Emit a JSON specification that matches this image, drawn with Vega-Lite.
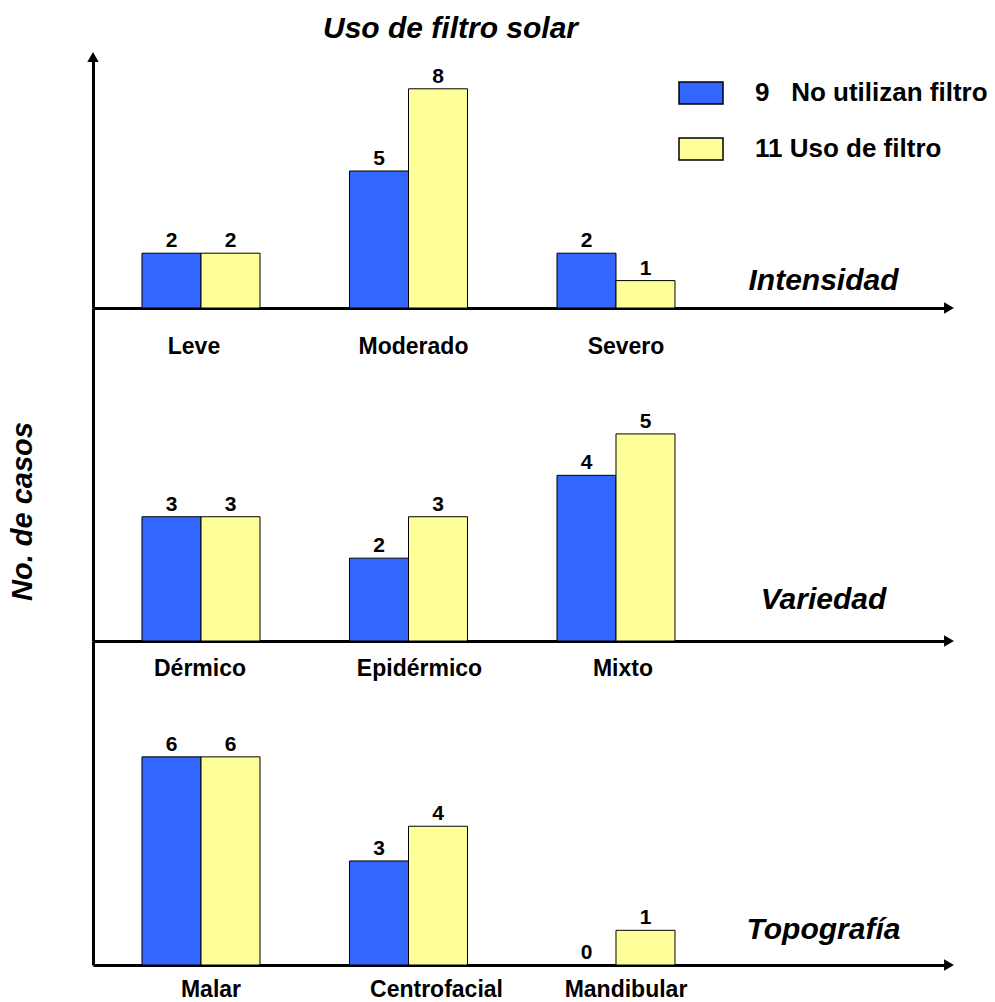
{
  "$schema": "https://vega.github.io/schema/vega-lite/v6.json",
  "padding": {"left": 8, "top": 14, "right": 0, "bottom": 0},
  "title": {"text": "Uso de filtro solar", "fontSize": 30, "fontWeight": "bold", "fontStyle": "italic", "font": "Liberation Sans", "color": "black", "anchor": "start", "frame": "group", "dx": 230, "offset": 8},
  "datasets": {
    "casos": [
      {"panel": "Intensidad", "categoria": "Leve", "grupo": "9\u00a0\u00a0\u00a0No utilizan filtro", "casos": 2},
      {"panel": "Intensidad", "categoria": "Leve", "grupo": "11 Uso de filtro", "casos": 2},
      {"panel": "Intensidad", "categoria": "Moderado", "grupo": "9\u00a0\u00a0\u00a0No utilizan filtro", "casos": 5},
      {"panel": "Intensidad", "categoria": "Moderado", "grupo": "11 Uso de filtro", "casos": 8},
      {"panel": "Intensidad", "categoria": "Severo", "grupo": "9\u00a0\u00a0\u00a0No utilizan filtro", "casos": 2},
      {"panel": "Intensidad", "categoria": "Severo", "grupo": "11 Uso de filtro", "casos": 1},
      {"panel": "Variedad", "categoria": "Dérmico", "grupo": "9\u00a0\u00a0\u00a0No utilizan filtro", "casos": 3},
      {"panel": "Variedad", "categoria": "Dérmico", "grupo": "11 Uso de filtro", "casos": 3},
      {"panel": "Variedad", "categoria": "Epidérmico", "grupo": "9\u00a0\u00a0\u00a0No utilizan filtro", "casos": 2},
      {"panel": "Variedad", "categoria": "Epidérmico", "grupo": "11 Uso de filtro", "casos": 3},
      {"panel": "Variedad", "categoria": "Mixto", "grupo": "9\u00a0\u00a0\u00a0No utilizan filtro", "casos": 4},
      {"panel": "Variedad", "categoria": "Mixto", "grupo": "11 Uso de filtro", "casos": 5},
      {"panel": "Topografía", "categoria": "Malar", "grupo": "9\u00a0\u00a0\u00a0No utilizan filtro", "casos": 6},
      {"panel": "Topografía", "categoria": "Malar", "grupo": "11 Uso de filtro", "casos": 6},
      {"panel": "Topografía", "categoria": "Centrofacial", "grupo": "9\u00a0\u00a0\u00a0No utilizan filtro", "casos": 3},
      {"panel": "Topografía", "categoria": "Centrofacial", "grupo": "11 Uso de filtro", "casos": 4},
      {"panel": "Topografía", "categoria": "Mandibular", "grupo": "9\u00a0\u00a0\u00a0No utilizan filtro", "casos": 0},
      {"panel": "Topografía", "categoria": "Mandibular", "grupo": "11 Uso de filtro", "casos": 1}
    ]
  },
  "bounds": "flush",
  "spacing": 0,
  "vconcat": [
    {
      "width": 856, "height": 251,
      "layer": [
        {
          "data": {"name": "casos"},
          "transform": [{"filter": "datum.panel == 'Intensidad'"}],
          "mark": {"type": "bar", "stroke": "black", "strokeWidth": 1},
          "encoding": {
            "x": {"field": "categoria", "type": "nominal", "scale": {"domain": ["Leve", "Moderado", "Severo", "Intensidad"], "paddingInner": 0.4313, "paddingOuter": 0.2783, "align": 0.4242},
              "axis": {"title": null, "values": ["Leve", "Moderado", "Severo"], "ticks": false, "grid": false, "domainColor": "black", "domainWidth": 3, "labelFontSize": 23, "labelFontWeight": "bold", "labelColor": "black", "labelPadding": 27, "labelAngle": 0,
                "labelOffset": {"condition": [{"test": "datum.value === 'Leve'", "value": -7}, {"test": "datum.value === 'Severo'", "value": 10}], "value": 5}}},
            "xOffset": {"field": "grupo", "type": "nominal", "scale": {"domain": ["9\u00a0\u00a0\u00a0No utilizan filtro", "11 Uso de filtro"], "paddingInner": 0, "paddingOuter": 0}},
            "y": {"field": "casos", "type": "quantitative", "scale": {"domain": [0, 9.16], "nice": false}, "axis": {"title": null, "labels": false, "ticks": false, "grid": false, "domainColor": "black", "domainWidth": 3}},
            "color": {"field": "grupo", "type": "nominal", "scale": {"domain": ["9\u00a0\u00a0\u00a0No utilizan filtro", "11 Uso de filtro"], "range": ["#3366FF", "#FFFF99"]}, "legend": {"title": null, "symbolType": "M-1,-0.5H1V0.5H-1Z", "symbolSize": 1936}}
          }
        },
        {
          "data": {"name": "casos"},
          "transform": [{"filter": "datum.panel == 'Intensidad'"}],
          "mark": {"type": "text", "fontSize": 21, "fontWeight": "bold", "baseline": "alphabetic", "dy": -6, "color": "black"},
          "encoding": {
            "x": {"field": "categoria", "type": "nominal", "scale": {"domain": ["Leve", "Moderado", "Severo", "Intensidad"], "paddingInner": 0.4313, "paddingOuter": 0.2783, "align": 0.4242}},
            "xOffset": {"field": "grupo", "type": "nominal", "scale": {"domain": ["9\u00a0\u00a0\u00a0No utilizan filtro", "11 Uso de filtro"], "paddingInner": 0, "paddingOuter": 0}},
            "y": {"field": "casos", "type": "quantitative"},
            "text": {"field": "casos", "type": "quantitative"}
          }
        },
        {
          "data": {"name": "casos"},
          "transform": [{"filter": "datum.panel == 'Intensidad'"}, {"aggregate": [{"op": "count", "as": "n"}], "groupby": ["panel"]}],
          "mark": {"type": "text", "fontSize": 30, "fontWeight": "bold", "fontStyle": "italic", "baseline": "middle", "color": "black"},
          "encoding": {
            "x": {"field": "panel", "type": "nominal", "scale": {"domain": ["Leve", "Moderado", "Severo", "Intensidad"], "paddingInner": 0.4313, "paddingOuter": 0.2783, "align": 0.4242}},
            "y": {"datum": 1, "type": "quantitative"},
            "text": {"field": "panel", "type": "nominal"}
          }
        },
        {
          "data": {"values": [{"flecha": "vertical"}]},
          "mark": {"type": "point", "shape": "triangle-up", "filled": true, "color": "black", "size": 130, "opacity": 1},
          "encoding": {"x": {"value": 0}, "y": {"value": 0}}
        },
        {
          "data": {"values": [{"flecha": "horizontal"}]},
          "mark": {"type": "point", "shape": "triangle-right", "filled": true, "color": "black", "size": 130, "opacity": 1},
          "encoding": {"x": {"value": "width"}, "y": {"value": "height"}}
        }
      ]
    },
    {
      "width": 856, "height": 333,
      "layer": [
        {
          "data": {"name": "casos"},
          "transform": [{"filter": "datum.panel == 'Variedad'"}],
          "mark": {"type": "bar", "stroke": "black", "strokeWidth": 1},
          "encoding": {
            "x": {"field": "categoria", "type": "nominal", "scale": {"domain": ["Dérmico", "Epidérmico", "Mixto", "Variedad"], "paddingInner": 0.4313, "paddingOuter": 0.2783, "align": 0.4242},
              "axis": {"title": null, "values": ["Dérmico", "Epidérmico", "Mixto"], "ticks": false, "grid": false, "domainColor": "black", "domainWidth": 3, "labelFontSize": 23, "labelFontWeight": "bold", "labelColor": "black", "labelPadding": 16, "labelAngle": 0,
                "labelOffset": {"condition": [{"test": "datum.value === 'Dérmico'", "value": -1}, {"test": "datum.value === 'Epidérmico'", "value": 11}], "value": 7}}},
            "xOffset": {"field": "grupo", "type": "nominal", "scale": {"domain": ["9\u00a0\u00a0\u00a0No utilizan filtro", "11 Uso de filtro"], "paddingInner": 0, "paddingOuter": 0}},
            "y": {"field": "casos", "type": "quantitative", "scale": {"domain": [0, 8.04], "nice": false},
              "axis": {"title": "No. de casos", "labels": false, "ticks": false, "grid": false, "domainColor": "black", "domainWidth": 3, "titleFontSize": 29, "titleFontWeight": "bold", "titleFontStyle": "italic", "titleColor": "black", "titlePadding": 56, "titleY": 203}},
            "color": {"field": "grupo", "type": "nominal", "scale": {"domain": ["9\u00a0\u00a0\u00a0No utilizan filtro", "11 Uso de filtro"], "range": ["#3366FF", "#FFFF99"]}, "legend": {"title": null, "symbolType": "M-1,-0.5H1V0.5H-1Z", "symbolSize": 1936}}
          }
        },
        {
          "data": {"name": "casos"},
          "transform": [{"filter": "datum.panel == 'Variedad'"}],
          "mark": {"type": "text", "fontSize": 21, "fontWeight": "bold", "baseline": "alphabetic", "dy": -6, "color": "black"},
          "encoding": {
            "x": {"field": "categoria", "type": "nominal", "scale": {"domain": ["Dérmico", "Epidérmico", "Mixto", "Variedad"], "paddingInner": 0.4313, "paddingOuter": 0.2783, "align": 0.4242}},
            "xOffset": {"field": "grupo", "type": "nominal", "scale": {"domain": ["9\u00a0\u00a0\u00a0No utilizan filtro", "11 Uso de filtro"], "paddingInner": 0, "paddingOuter": 0}},
            "y": {"field": "casos", "type": "quantitative"},
            "text": {"field": "casos", "type": "quantitative"}
          }
        },
        {
          "data": {"name": "casos"},
          "transform": [{"filter": "datum.panel == 'Variedad'"}, {"aggregate": [{"op": "count", "as": "n"}], "groupby": ["panel"]}],
          "mark": {"type": "text", "fontSize": 30, "fontWeight": "bold", "fontStyle": "italic", "baseline": "middle", "color": "black"},
          "encoding": {
            "x": {"field": "panel", "type": "nominal", "scale": {"domain": ["Dérmico", "Epidérmico", "Mixto", "Variedad"], "paddingInner": 0.4313, "paddingOuter": 0.2783, "align": 0.4242}},
            "y": {"datum": 1, "type": "quantitative"},
            "text": {"field": "panel", "type": "nominal"}
          }
        },
        {
          "data": {"values": [{"flecha": "horizontal"}]},
          "mark": {"type": "point", "shape": "triangle-right", "filled": true, "color": "black", "size": 130, "opacity": 1},
          "encoding": {"x": {"value": "width"}, "y": {"value": "height"}}
        }
      ]
    },
    {
      "width": 856, "height": 324,
      "layer": [
        {
          "data": {"name": "casos"},
          "transform": [{"filter": "datum.panel == 'Topografía'"}],
          "mark": {"type": "bar", "stroke": "black", "strokeWidth": 1},
          "encoding": {
            "x": {"field": "categoria", "type": "nominal", "scale": {"domain": ["Malar", "Centrofacial", "Mandibular", "Topografía"], "paddingInner": 0.4313, "paddingOuter": 0.2783, "align": 0.4242},
              "axis": {"title": null, "values": ["Malar", "Centrofacial", "Mandibular"], "ticks": false, "grid": false, "domainColor": "black", "domainWidth": 3, "labelFontSize": 23, "labelFontWeight": "bold", "labelColor": "black", "labelPadding": 13, "labelAngle": 0,
                "labelOffset": {"condition": [{"test": "datum.value === 'Centrofacial'", "value": 28}], "value": 10}}},
            "xOffset": {"field": "grupo", "type": "nominal", "scale": {"domain": ["9\u00a0\u00a0\u00a0No utilizan filtro", "11 Uso de filtro"], "paddingInner": 0, "paddingOuter": 0}},
            "y": {"field": "casos", "type": "quantitative", "scale": {"domain": [0, 9.34], "nice": false}, "axis": {"title": null, "labels": false, "ticks": false, "grid": false, "domainColor": "black", "domainWidth": 3}},
            "color": {"field": "grupo", "type": "nominal", "scale": {"domain": ["9\u00a0\u00a0\u00a0No utilizan filtro", "11 Uso de filtro"], "range": ["#3366FF", "#FFFF99"]}, "legend": {"title": null, "symbolType": "M-1,-0.5H1V0.5H-1Z", "symbolSize": 1936}}
          }
        },
        {
          "data": {"name": "casos"},
          "transform": [{"filter": "datum.panel == 'Topografía'"}],
          "mark": {"type": "text", "fontSize": 21, "fontWeight": "bold", "baseline": "alphabetic", "dy": -6, "color": "black"},
          "encoding": {
            "x": {"field": "categoria", "type": "nominal", "scale": {"domain": ["Malar", "Centrofacial", "Mandibular", "Topografía"], "paddingInner": 0.4313, "paddingOuter": 0.2783, "align": 0.4242}},
            "xOffset": {"field": "grupo", "type": "nominal", "scale": {"domain": ["9\u00a0\u00a0\u00a0No utilizan filtro", "11 Uso de filtro"], "paddingInner": 0, "paddingOuter": 0}},
            "y": {"field": "casos", "type": "quantitative"},
            "text": {"field": "casos", "type": "quantitative"}
          }
        },
        {
          "data": {"name": "casos"},
          "transform": [{"filter": "datum.panel == 'Topografía'"}, {"aggregate": [{"op": "count", "as": "n"}], "groupby": ["panel"]}],
          "mark": {"type": "text", "fontSize": 30, "fontWeight": "bold", "fontStyle": "italic", "baseline": "middle", "color": "black"},
          "encoding": {
            "x": {"field": "panel", "type": "nominal", "scale": {"domain": ["Malar", "Centrofacial", "Mandibular", "Topografía"], "paddingInner": 0.4313, "paddingOuter": 0.2783, "align": 0.4242}},
            "y": {"datum": 1, "type": "quantitative"},
            "text": {"field": "panel", "type": "nominal"}
          }
        },
        {
          "data": {"values": [{"flecha": "horizontal"}]},
          "mark": {"type": "point", "shape": "triangle-right", "filled": true, "color": "black", "size": 130, "opacity": 1},
          "encoding": {"x": {"value": "width"}, "y": {"value": "height"}}
        }
      ]
    }
  ],
  "config": {
    "font": "Liberation Sans",
    "view": {"stroke": null},
    "legend": {"orient": "none", "legendX": 585, "legendY": 13, "padding": 0, "symbolStrokeColor": "black", "symbolStrokeWidth": 1.5, "symbolOpacity": 1, "labelFontSize": 26, "labelFontWeight": "bold", "labelColor": "black", "labelOffset": 31, "labelLimit": 400, "rowPadding": 19}
  }
}
